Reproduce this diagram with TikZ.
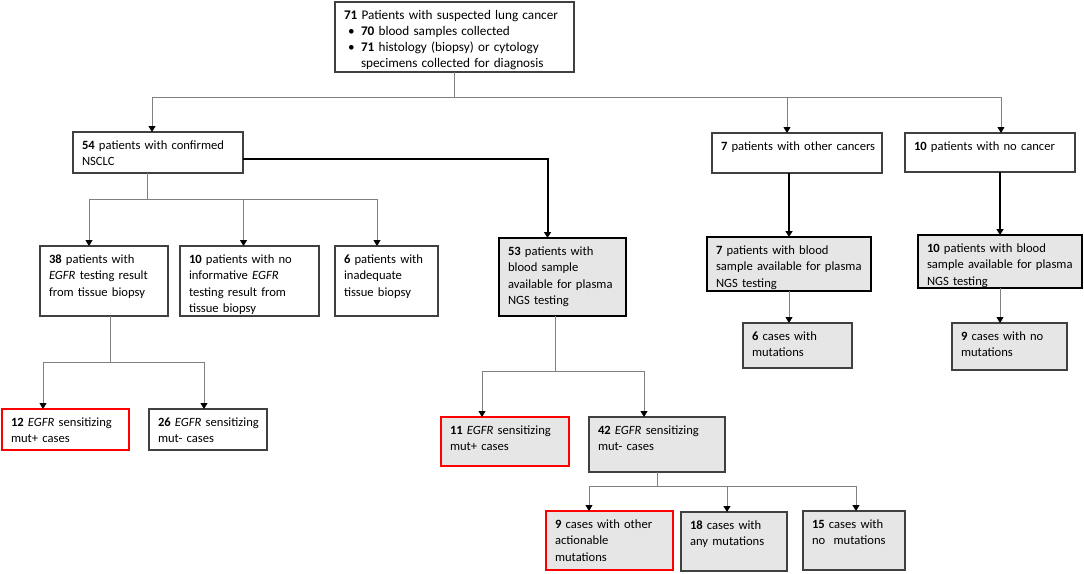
\documentclass[tikz,border=0pt]{standalone}
\usepackage{fontspec}
\setmainfont{Carlito}
\usetikzlibrary{arrows.meta,calc}
\definecolor{bordergray}{HTML}{404040}
\definecolor{linegray}{HTML}{808080}
\definecolor{boxfill}{HTML}{E6E6E6}
\definecolor{hired}{HTML}{FF0000}
\tikzset{
  plainbox/.style={draw=bordergray, line width=1.2pt, fill=white, inner sep=0pt, outer sep=0pt},
  greybox/.style={draw=bordergray, line width=1.2pt, fill=boxfill, inner sep=0pt, outer sep=0pt},
  strongbox/.style={draw=black, line width=2pt, fill=boxfill, inner sep=0pt, outer sep=0pt},
  redbox/.style={draw=hired, line width=2.6pt, fill=white, inner sep=0pt, outer sep=0pt},
  redgreybox/.style={draw=hired, line width=2.6pt, fill=boxfill, inner sep=0pt, outer sep=0pt},
  txt/.style={inner sep=0pt, outer sep=0pt, align=left, text width=240pt, font=\fontsize{12.6}{16.5}\selectfont},
  gline/.style={draw=linegray, line width=1pt},
  garrow/.style={draw=linegray, line width=1pt, -{Triangle[width=7pt,length=6pt,color=black]}},
  karrow/.style={draw=black, line width=2pt, -{Triangle[width=7pt,length=6pt,color=black]}},
  marrow/.style={draw=black, line width=1.5pt, -{Triangle[width=7pt,length=6pt,color=black]}},
}
\newcommand\mybox[7]{%
  \pgfmathsetmacro\bw{#4-#2}\pgfmathsetmacro\bh{#5-#3}%
  \node[#6, minimum width=\bw pt, minimum height=\bh pt, anchor=north west] (#1) at (#2,#3) {};
  \node[txt, anchor=base west] (#1t) at ($(#1.north west)+(9,17)$) {#7};
}
\begin{document}
\begin{tikzpicture}[x=1pt,y=-1pt]
\useasboundingbox[fill=white] (0,0) rectangle (1084,573);

% boxes
\mybox{top}{335}{2}{574}{72}{plainbox}{\fontsize{13.2}{16.2}\selectfont\textbf{71} Patients with suspected lung cancer\\
\hspace*{4pt}\makebox[13pt][l]{•}\textbf{70} blood samples collected\\
\hspace*{4pt}\makebox[13pt][l]{•}\textbf{71} histology (biopsy) or cytology\\
\hspace*{17pt}specimens collected for diagnosis}
\mybox{nsclc}{73}{132}{243}{173}{plainbox}{\textbf{54} patients with confirmed\\NSCLC}
\mybox{oth}{712}{133}{882}{173}{plainbox}{\textbf{7} patients with other cancers}
\mybox{noc}{905}{133}{1075}{172}{plainbox}{\textbf{10} patients with no cancer}
\mybox{tis}{40}{246}{168}{316}{plainbox}{\textbf{38} patients with\\\textit{EGFR} testing result\\from tissue biopsy}
\mybox{noinf}{180}{246}{319}{316}{plainbox}{\textbf{10} patients with no\\informative \textit{EGFR}\\testing result from\\tissue biopsy}
\mybox{inad}{335}{246}{438}{316}{plainbox}{\textbf{6} patients with\\inadequate\\tissue biopsy}
\mybox{pl}{499}{238}{626}{316}{strongbox}{\textbf{53} patients with\\blood sample\\available for plasma\\NGS testing}
\mybox{bsev}{707}{237}{871}{291}{strongbox}{\textbf{7} patients with blood\\sample available for plasma\\NGS testing}
\mybox{bten}{918}{235}{1082}{288}{strongbox}{\textbf{10} patients with blood\\sample available for plasma\\NGS testing}
\mybox{msix}{743}{323}{852}{368}{greybox}{\textbf{6} cases with\\mutations}
\mybox{nmnine}{952}{323}{1067}{370}{greybox}{\textbf{9} cases with no\\mutations}
\mybox{etw}{2}{409}{129}{450}{redbox}{\textbf{12} \textit{EGFR} sensitizing\\mut+ cases}
\mybox{ets}{149}{409}{267}{450}{plainbox}{\textbf{26} \textit{EGFR} sensitizing\\mut- cases}
\mybox{eel}{441}{417}{569}{466}{redgreybox}{\textbf{11} \textit{EGFR} sensitizing\\mut+ cases}
\mybox{efo}{589}{417}{725}{472}{greybox}{\textbf{42} \textit{EGFR} sensitizing\\mut- cases}
\mybox{act}{546}{511}{673}{570}{redgreybox}{\textbf{9} cases with other\\actionable\\mutations}
\mybox{any}{681}{512}{787}{571}{greybox}{\textbf{18} cases with\\any mutations}
\mybox{nom}{803}{511}{905}{570}{greybox}{\textbf{15} cases with\\no\ \ mutations}

% bus coordinates
\coordinate (busA) at (0,97);
\coordinate (busB) at (0,199);
\coordinate (busC) at (0,362);
\coordinate (busD) at (0,371);
\coordinate (busE) at (0,486);

% top split
\draw[gline] (top.south) -- (top.south |- busA);
\draw[gline] ([xshift=-6pt]nsclc.north |- busA) -- ([xshift=11pt]noc.north |- busA);
\draw[garrow] ([xshift=-6pt]nsclc.north |- busA) -- ([xshift=-6pt]nsclc.north);
\draw[garrow] ([xshift=-10pt]oth.north |- busA) -- ([xshift=-10pt]oth.north);
\draw[garrow] ([xshift=11pt]noc.north |- busA) -- ([xshift=11pt]noc.north);

% NSCLC to plasma (thick)
\draw[karrow] ([yshift=-6pt]nsclc.east) -| ([xshift=-15pt]pl.north);

% NSCLC split
\draw[gline] ([xshift=-11pt]nsclc.south) -- ([xshift=-11pt]nsclc.south |- busB);
\draw[gline] ([xshift=-15pt]tis.north |- busB) -- ([xshift=-9.5pt]inad.north |- busB);
\draw[garrow] ([xshift=-15pt]tis.north |- busB) -- ([xshift=-15pt]tis.north);
\draw[garrow] ([xshift=-6pt]noinf.north |- busB) -- ([xshift=-6pt]noinf.north);
\draw[garrow] ([xshift=-9.5pt]inad.north |- busB) -- ([xshift=-9.5pt]inad.north);

% other cancers / no cancer
\draw[karrow] (bsev.north |- oth.south) -- (bsev.north);
\draw[marrow] (bten.north |- noc.south) -- (bten.north);
\draw[garrow] (bsev.south) -- (bsev.south |- msix.north);
\draw[garrow] (bten.south) -- (bten.south |- nmnine.north);

% tissue split
\draw[gline] ([xshift=6pt]tis.south) -- ([xshift=6pt]tis.south |- busC);
\draw[gline] ([xshift=-22.5pt]etw.north |- busC) -- ([xshift=-4pt]ets.north |- busC);
\draw[garrow] ([xshift=-22.5pt]etw.north |- busC) -- ([xshift=-22.5pt]etw.north);
\draw[garrow] ([xshift=-4pt]ets.north |- busC) -- ([xshift=-4pt]ets.north);

% plasma split
\draw[gline] ([xshift=-7.5pt]pl.south) -- ([xshift=-7.5pt]pl.south |- busD);
\draw[gline] ([xshift=-23pt]eel.north |- busD) -- ([xshift=-13pt]efo.north |- busD);
\draw[garrow] ([xshift=-23pt]eel.north |- busD) -- ([xshift=-23pt]eel.north);
\draw[garrow] ([xshift=-13pt]efo.north |- busD) -- ([xshift=-13pt]efo.north);

% 42 split
\draw[gline] (efo.south) -- (efo.south |- busE);
\draw[gline] ([xshift=-20.5pt]act.north |- busE) -- ([xshift=2pt]nom.north |- busE);
\draw[garrow] ([xshift=-20.5pt]act.north |- busE) -- ([xshift=-20.5pt]act.north);
\draw[garrow] ([xshift=-7pt]any.north |- busE) -- ([xshift=-7pt]any.north);
\draw[garrow] ([xshift=2pt]nom.north |- busE) -- ([xshift=2pt]nom.north);
\end{tikzpicture}
\end{document}
